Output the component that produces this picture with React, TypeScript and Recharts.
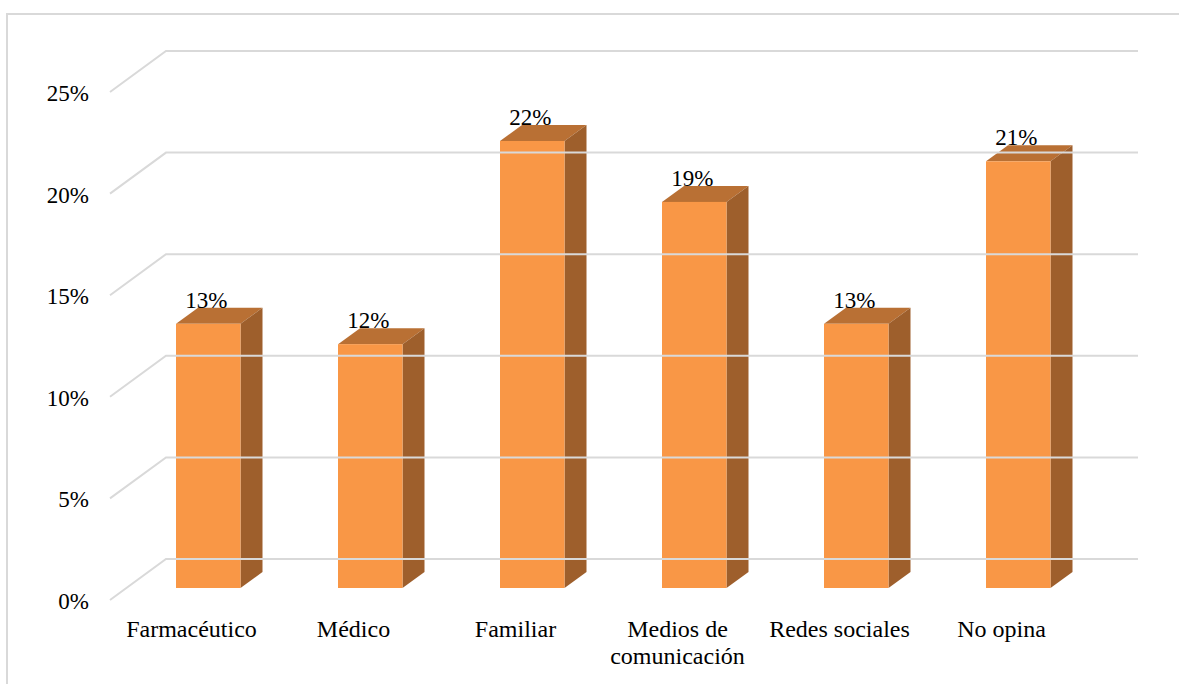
import { BarChart, Bar, XAxis, YAxis, LabelList } from "recharts";

const categories = ["Farmacéutico", "Médico", "Familiar", "Medios de comunicación", "Redes sociales", "No opina"];
const values = [13, 12, 22, 19, 13, 21];
const yTicks = [0, 5, 10, 15, 20, 25];

const data = categories.map((name, i) => ({ name, value: values[i] }));

const FONT = "'Liberation Serif', serif";
const GRID = "#d9d9d9";
// depth of the fake 3D look
const DX = 22;
const DY = 16;

// tick draws its label plus the floor diagonal and the back wall line
const YTick = ({ y, payload }: any) => (
  <g>
    <polyline
      points={`110,${y + 12} 166,${y - 29} 1138,${y - 29}`}
      fill="none"
      stroke={GRID}
      strokeWidth={2}
    />
    <text x={89} y={y + 21} textAnchor="end" fontFamily={FONT} fontSize={23} fill="#000">
      {payload.value}%
    </text>
  </g>
);

const XTick = ({ x, y, payload }: any) => {
  const lines = payload.value === "Medios de comunicación" ? ["Medios de", "comunicación"] : [payload.value];
  return (
    <text x={x - 16.5} y={y + 49} textAnchor="middle" fontFamily={FONT} fontSize={24} fill="#000">
      {lines.map((l: string, i: number) => (
        <tspan key={l} x={x - 16.5} dy={i === 0 ? 0 : 27}>
          {l}
        </tspan>
      ))}
    </text>
  );
};

const Box3D = ({ x, y, width, height }: any) => (
  <g>
    <polygon
      points={`${x},${y} ${x + DX},${y - DY} ${x + width + DX},${y - DY} ${x + width},${y}`}
      fill="#b97034"
    />
    <polygon
      points={`${x + width},${y} ${x + width + DX},${y - DY} ${x + width + DX},${y + height - DY} ${x + width},${y + height}`}
      fill="#9e5f2c"
    />
    <rect x={x} y={y} width={width} height={height} fill="#f99746" />
  </g>
);

const ValueLabel = ({ x, y, width, value }: any) => (
  <text x={x + width / 2 - 2} y={y - 16} textAnchor="middle" fontFamily={FONT} fontSize={23} fill="#000">
    {value}%
  </text>
);

export default function App() {
  return (
    <div style={{ position: "absolute", left: 0, top: 0, width: 1179, height: 684, background: "#fff" }}>
      <div
        style={{
          position: "absolute",
          left: 6,
          top: 13,
          right: 0,
          bottom: 0,
          borderLeft: "2px solid #d9d9d9",
          borderTop: "2px solid #d9d9d9",
        }}
      />
      <BarChart
        width={1179}
        height={684}
        data={data}
        barCategoryGap="30%"
        margin={{ top: 80, right: 80, bottom: 0, left: 0 }}
        style={{ position: "absolute", left: 0, top: 0 }}
      >
        <XAxis
          dataKey="name"
          height={96}
          axisLine={false}
          tickLine={false}
          tickSize={0}
          tickMargin={0}
          interval={0}
          tick={<XTick />}
        />
        <YAxis
          width={127}
          domain={[0, 25]}
          ticks={yTicks}
          axisLine={false}
          tickLine={false}
          tickSize={0}
          tick={<YTick />}
        />
        <Bar dataKey="value" barSize={64.5} shape={<Box3D />} isAnimationActive={false}>
          <LabelList dataKey="value" content={<ValueLabel />} />
        </Bar>
      </BarChart>
    </div>
  );
}
